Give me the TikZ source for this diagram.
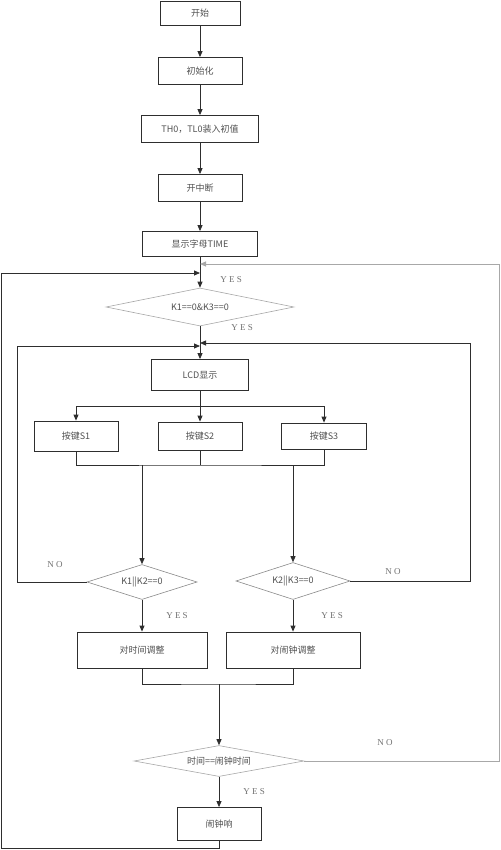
\documentclass[tikz,border=0pt]{standalone}
\usepackage{fontspec}
\setmainfont{Liberation Serif}
\newfontfamily\cjk{Noto Sans CJK SC}
\usetikzlibrary{arrows.meta,positioning,shapes.geometric}
\definecolor{FlowEdge}{HTML}{2E2E2E}
\definecolor{FlowText}{HTML}{505050}
\definecolor{FlowTag}{HTML}{707070}
\definecolor{FlowPale}{HTML}{A8A8A8}
\definecolor{FlowMid}{HTML}{8A8A8A}

\begin{document}
\begin{tikzpicture}[x=1pt,y=-1pt,
    stepbox/.style={draw=FlowEdge,line width=0.8pt,fill=white,inner sep=0pt,
      text=FlowText,font=\cjk\fontsize{9}{11}\selectfont},
    testbox/.style={diamond,draw=#1,line width=0.6pt,fill=white,inner sep=0pt,
      aspect=5,text=FlowText,font=\cjk\fontsize{9}{11}\selectfont},
    link/.style={draw=FlowEdge,line width=0.8pt},
    flow/.style={link,-{Triangle[length=6pt,width=5pt]}},
    tag/.style={text=FlowTag,font=\fontsize{9}{11}\selectfont}]
    \useasboundingbox (0,0) rectangle (500,850);

    % main chain
    \node[stepbox,minimum width=80,minimum height=24] (start) at (200,13) {开始};
    \node[stepbox,minimum width=84,minimum height=27] (init) at (200,71) {初始化};
    \node[stepbox,minimum width=117,minimum height=27] (load) at (200,129) {TH0，TL0装入初值};
    \node[stepbox,minimum width=84,minimum height=27] (intr) at (200,188) {开中断};
    \node[stepbox,minimum width=115,minimum height=25] (title) at (200,244) {显示字母TIME};
    \node[testbox=FlowPale,minimum width=188,minimum height=38] (keychk) at (200,307) {K1==0\&K3==0};
    \node[stepbox,minimum width=97,minimum height=31] (lcd) at (200,375) {LCD显示};

    % keys
    \node[stepbox,minimum width=84,minimum height=30] (s1) at (76,436) {按键S1};
    \node[stepbox,minimum width=84,minimum height=28] (s2) at (200,436) {按键S2};
    \node[stepbox,minimum width=85,minimum height=26] (s3) at (324,436) {按键S3};

    % checks and adjust
    \node[testbox=FlowMid,minimum width=110,minimum height=35] (tchk) at (142,582) {K1||K2==0};
    \node[testbox=FlowMid,minimum width=114,minimum height=37] (achk) at (293,581) {K2||K3==0};
    \node[stepbox,minimum width=130,minimum height=36] (tadj) at (142,650) {对时间调整};
    \node[stepbox,minimum width=134,minimum height=36] (aadj) at (293,650) {对闹钟调整};
    \node[testbox=FlowPale,minimum width=170,minimum height=31] (match) at (219,761) {时间==闹钟时间};
    \node[stepbox,minimum width=84,minimum height=33] (ring) at (219,824) {闹钟响};

    % junctions
    \coordinate (inR) at (200,264);
    \coordinate (inL) at (200,273);
    \coordinate (lcdR) at (200,343);
    \coordinate (lcdL) at (200,346);
    \coordinate (fork) at (200,406);
    \coordinate (join) at (200,465);
    \coordinate (merge) at (219,684);
    \coordinate (leftrail) at (17,346);
    \coordinate (rightrail) at (470,343);
    \coordinate (outrail) at (499,264);
    \coordinate (backrail) at (1,273);

    \draw[flow] (start) -- (init);
    \draw[flow] (init) -- (load);
    \draw[flow] (load) -- (intr);
    \draw[flow] (intr) -- (title);
    \draw[flow] (title) -- (keychk);
    \draw[flow] (keychk) -- (lcd);
    \draw[link] (lcd) -- (fork);
    \draw[flow] (fork) -| (s1);
    \draw[flow] (fork) -- (s2);
    \draw[flow] (fork) -| (s3);
    \draw[link] (s1) |- (join) -| (s3);
    \draw[link] (s2) -- (join);
    \draw[flow] (join -| tchk) -- (tchk);
    \draw[flow] (join -| achk) -- (achk);
    \draw[flow] (tchk.west) -| (leftrail) -- (lcdL);
    \draw[flow] (achk.east) -| (rightrail) -- (lcdR);
    \draw[flow] (tchk) -- (tadj);
    \draw[flow] (achk) -- (aadj);
    \draw[link] (tadj) |- (merge) -| (aadj);
    \draw[flow] (merge) -- (match);
    \draw[flow,draw=FlowPale] (match.east) -| (outrail) -- (inR);
    \draw[flow] (match) -- (ring);
    \draw[flow] (ring.south) -- ++(0,7) -| (backrail) -- (inL);

    % labels
    \node[tag] (yes1) at (231,280) {Y E S};
    \node[tag] (yes2) at (242,328) {Y E S};
    \node[tag] (no1) at (55,565) {N O};
    \node[tag] (no2) at (393,572) {N O};
    \node[tag] (yes3) at (177,616) {Y E S};
    \node[tag] (yes4) at (332,616) {Y E S};
    \node[tag] (no3) at (385,743) {N O};
    \node[tag] (yes5) at (254,792) {Y E S};
  \end{tikzpicture}
\end{document}
